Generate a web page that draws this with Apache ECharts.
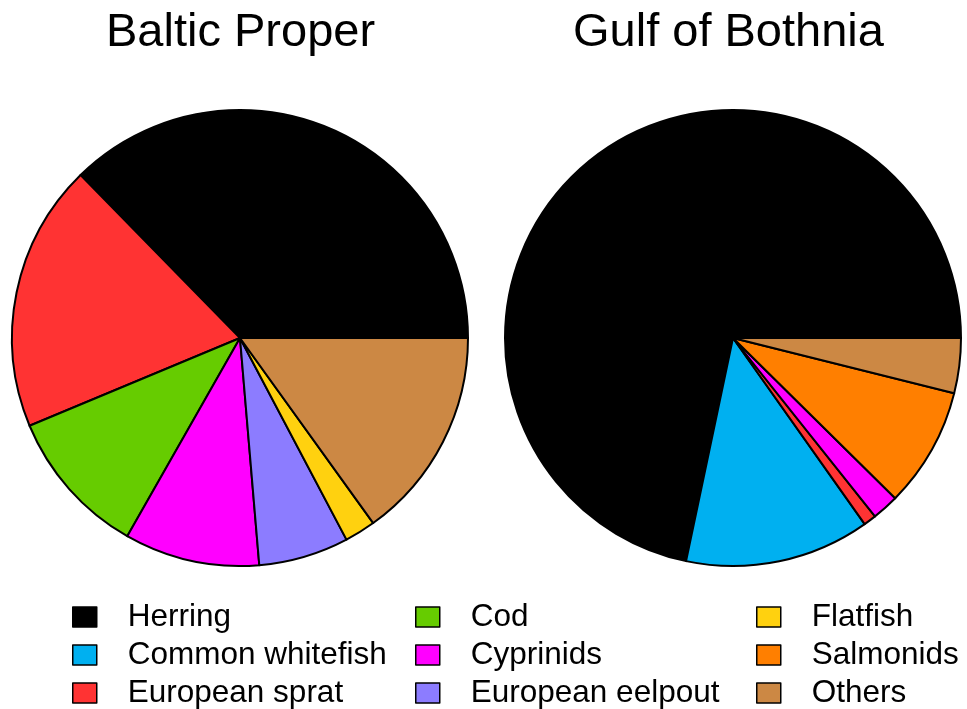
<!DOCTYPE html>
<html>
<head>
<meta charset="utf-8">
<script src="https://cdn.jsdelivr.net/npm/echarts@6/dist/echarts.min.js"></script>
<style>
html, body { margin: 0; padding: 0; background: #fff; }
#chart { width: 967px; height: 709px; }
</style>
</head>
<body>
<div id="chart"></div>
<script>
var categories = ['Herring', 'Common whitefish', 'European sprat', 'Cod', 'Cyprinids',
    'European eelpout', 'Flatfish', 'Salmonids', 'Others'];
var colors = ['#000000', '#00b0f0', '#ff3333', '#66cc00', '#ff00ff',
    '#8c7cff', '#ffd10f', '#ff7f00', '#cc8844'];
// percent of catch
var balticValues = [37.4, 0, 19.0, 10.5, 9.6, 6.4, 2.2, 0, 15.1];
var bothniaValues = [71.7, 13.1, 0.9, 0, 1.9, 0, 0, 8.5, 3.9];
var titles = ['Baltic Proper', 'Gulf of Bothnia'];
var legendColumns = [
    ['Herring', 'Common whitefish', 'European sprat'],
    ['Cod', 'Cyprinids', 'European eelpout'],
    ['Flatfish', 'Salmonids', 'Others']
];

function buildData(values) {
    var out = [];
    values.forEach(function (v, i) {
        if (v > 0) {
            out.push({ name: categories[i], value: v, itemStyle: { color: colors[i] } });
        }
    });
    return out;
}

function pieSeries(name, values, cx) {
    return {
        name: name,
        type: 'pie',
        radius: 228,
        center: [cx, 338],
        startAngle: 0,
        clockwise: false,
        animation: false,
        silent: true,
        label: { show: false },
        labelLine: { show: false },
        itemStyle: { borderColor: '#000', borderWidth: 2 },
        data: buildData(values)
    };
}

// one legend per entry so the 3x3 grid sits exactly where the original has it
var legendLefts = [72, 415, 756];
var legends = [];
legendColumns.forEach(function (col, c) {
    col.forEach(function (name, r) {
        legends.push({
            data: [name],
            left: legendLefts[c],
            top: 601 + r * 38,
            padding: 0,
            itemWidth: 24,
            itemHeight: 20,
            icon: 'rect',
            selectedMode: false,
            itemStyle: { borderColor: '#000', borderWidth: 1.5 },
            textStyle: {
                fontFamily: 'Liberation Sans, Arial, sans-serif',
                fontSize: 31.5,
                color: '#000',
                lineHeight: 31,
                padding: [0, 0, 0, 26]
            }
        });
    });
});

var chart = echarts.init(document.getElementById('chart'));
chart.setOption({
    backgroundColor: '#fff',
    title: [
        {
            text: titles[0], left: 106, top: 10, padding: 0,
            textStyle: { fontFamily: 'Liberation Sans, Arial, sans-serif', fontSize: 47, fontWeight: 'normal', color: '#000' }
        },
        {
            text: titles[1], left: 573, top: 10, padding: 0,
            textStyle: { fontFamily: 'Liberation Sans, Arial, sans-serif', fontSize: 47, fontWeight: 'normal', color: '#000' }
        }
    ],
    legend: legends,
    series: [
        pieSeries(titles[0], balticValues, 240),
        pieSeries(titles[1], bothniaValues, 733)
    ]
});
</script>
</body>
</html>
